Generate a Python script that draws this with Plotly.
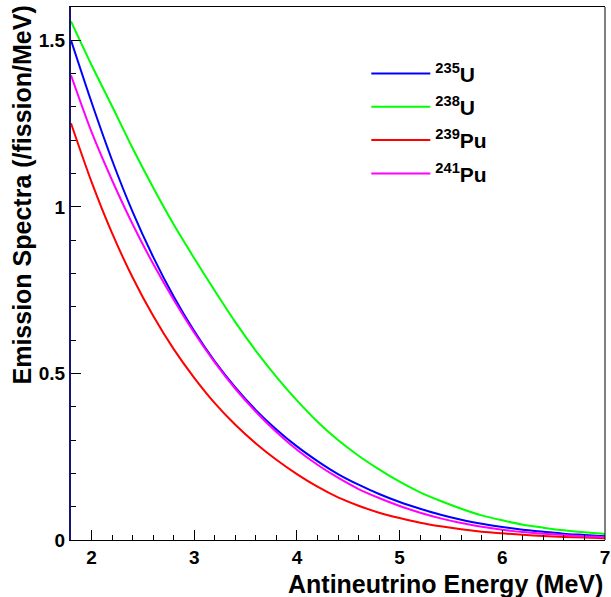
import plotly.graph_objects as go

energy = [1.8, 2.0, 2.2, 2.4, 2.6, 2.8, 3.0, 3.2, 3.4, 3.6, 3.8, 4.0, 4.2, 4.4,
          4.6, 4.8, 5.0, 5.2, 5.4, 5.6, 5.8, 6.0, 6.2, 6.4, 6.6, 6.8, 7.0]

u235 = [1.500, 1.314, 1.140, 0.985, 0.850, 0.731, 0.627, 0.536, 0.458, 0.390,
        0.332, 0.281, 0.237, 0.198, 0.166, 0.138, 0.114, 0.094, 0.076, 0.061,
        0.049, 0.039, 0.031, 0.025, 0.019, 0.015, 0.011]
u238 = [1.557, 1.426, 1.302, 1.176, 1.058, 0.947, 0.846, 0.748, 0.654, 0.568,
        0.490, 0.419, 0.355, 0.300, 0.253, 0.212, 0.175, 0.143, 0.117, 0.094,
        0.074, 0.059, 0.046, 0.037, 0.029, 0.023, 0.018]
pu239 = [1.251, 1.075, 0.921, 0.788, 0.673, 0.573, 0.487, 0.411, 0.346, 0.290,
         0.241, 0.198, 0.160, 0.128, 0.103, 0.082, 0.066, 0.052, 0.041, 0.032,
         0.025, 0.020, 0.0155, 0.012, 0.0093, 0.0072, 0.0056]
pu241 = [1.395, 1.225, 1.080, 0.948, 0.829, 0.721, 0.622, 0.533, 0.454, 0.385,
         0.324, 0.271, 0.226, 0.187, 0.153, 0.126, 0.102, 0.082, 0.065, 0.051,
         0.040, 0.031, 0.024, 0.019, 0.015, 0.011, 0.0085]

series = [
    ("<sup>235</sup>U", u235, "#0000ff"),
    ("<sup>238</sup>U", u238, "#00ff00"),
    ("<sup>239</sup>Pu", pu239, "#ff0000"),
    ("<sup>241</sup>Pu", pu241, "#ff00ff"),
]

x_title = "Antineutrino Energy (MeV)"
y_title = "Emission Spectra (/fission/MeV)"

FONT = "Liberation Sans, Arial, sans-serif"

fig = go.Figure()
for i, (name, vals, color) in enumerate(series):
    fig.add_trace(go.Scatter(
        x=energy, y=vals, mode="lines", name=name,
        line=dict(color=color, width=2, shape="spline", smoothing=0.8),
        legendgroup=f"g{i}",
    ))

fig.update_layout(
    width=611, height=597,
    margin=dict(l=71, r=6, t=7, b=57, autoexpand=False),
    plot_bgcolor="white", paper_bgcolor="white",
    font=dict(family=FONT, color="black", weight="bold"),
    showlegend=True,
    legend=dict(
        x=0.553, y=0.913, xanchor="left", yanchor="top",
        bgcolor="rgba(0,0,0,0)", borderwidth=0,
        font=dict(family=FONT, size=21, color="black", weight="bold"),
        tracegroupgap=3, itemwidth=59,
    ),
    xaxis=dict(
        range=[1.8, 7], dtick=1, tick0=0, automargin=False,
        showline=True, linecolor="black", linewidth=1, mirror=True,
        ticks="inside", ticklen=10, tickwidth=1, tickcolor="black",
        minor=dict(dtick=0.2, tick0=0, ticks="inside", ticklen=5, tickcolor="black"),
        showgrid=False, zeroline=False,
        tickfont=dict(family=FONT, size=19, color="black", weight="bold"),
    ),
    yaxis=dict(
        range=[0, 1.6], dtick=0.5, tick0=0, automargin=False,
        showline=True, linecolor="#161670", linewidth=2, mirror=False,
        ticks="inside", ticklen=10, tickwidth=1, tickcolor="black",
        minor=dict(dtick=0.1, tick0=0, ticks="inside", ticklen=5, tickcolor="black"),
        showgrid=False, zeroline=False,
        tickfont=dict(family=FONT, size=19, color="black", weight="bold"),
    ),
    shapes=[dict(type="line", xref="paper", yref="paper", x0=1, x1=1, y0=0, y1=1,
                 line=dict(color="black", width=1))],
    annotations=[
        dict(text=x_title, xref="paper", yref="paper", x=1, y=0, xanchor="right",
             yanchor="top", yshift=-28, showarrow=False,
             font=dict(family=FONT, size=25, color="black", weight="bold")),
        dict(text=y_title, xref="paper", yref="paper", x=0, y=1, xanchor="right",
             yanchor="top", xshift=-34, yshift=3, textangle=-90, showarrow=False,
             font=dict(family=FONT, size=25, color="black", weight="bold")),
    ],
)

fig.write_html(
    "out.html",
    config={"displayModeBar": False, "responsive": False},
    default_width="611px", default_height="597px",
    post_script="document.body.style.margin='0px';document.body.style.padding='0px';document.body.style.overflow='hidden';",
)
